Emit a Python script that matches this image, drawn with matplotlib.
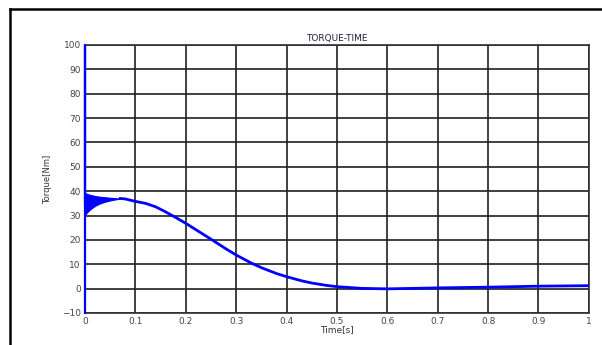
import numpy as np
import matplotlib
matplotlib.use('Agg')
from matplotlib import pyplot as plt
from matplotlib.lines import Line2D

plt.rcParams['font.family'] = ['DejaVu Sans']

# startup spike
t_spike = [0.0, 0.0, 0.0, 0.001]
q_spike = [-10, 100, 35, 34]

# decaying startup oscillation, upper / lower envelope
t_env = [0.001, 0.005, 0.01, 0.02, 0.03, 0.04, 0.05, 0.06, 0.07]
q_upper = [39.2, 38.8, 38.5, 38.0, 37.7, 37.5, 37.3, 37.1, 37.0]
q_lower = [30.5, 31.5, 32.5, 34.0, 35.0, 35.7, 36.2, 36.6, 37.0]

# main torque curve
t_main = [0.07, 0.08, 0.1, 0.12, 0.14, 0.16, 0.18, 0.2, 0.22, 0.25, 0.28, 0.3,
          0.33, 0.35, 0.38, 0.4, 0.43, 0.45, 0.48, 0.5, 0.55, 0.6, 0.65, 0.7,
          0.8, 0.9, 1.0]
q_main = [37.0, 36.8, 35.8, 35.0, 33.6, 31.5, 29.2, 26.8, 24.2, 20.3, 16.3, 13.8,
          10.5, 8.6, 6.2, 4.9, 3.2, 2.3, 1.3, 0.8, 0.1, -0.1, 0.1, 0.3,
          0.6, 1.0, 1.2]

xticks = np.arange(0, 1.01, 0.1)
xtick_labels = ['0', '0.1', '0.2', '0.3', '0.4', '0.5', '0.6', '0.7', '0.8', '0.9', '1']
yticks = np.arange(-10, 101, 10)

fig = plt.figure(figsize=(6.02, 3.45), dpi=100)
fig.patch.set_facecolor('white')
ax = fig.add_axes([0.1412, 0.0928, 0.837, 0.7768])

ax.plot(t_spike, q_spike, color='#0000ff', lw=1.6, zorder=5, clip_on=False)
ax.fill_between(t_env, q_lower, q_upper, color='#0000ff', lw=0.8, zorder=3)
ax.plot(t_main, q_main, color='#0000ff', lw=2.0, zorder=3)

ax.set_xlim(0, 1)
ax.set_ylim(-10, 100)
ax.set_xticks(xticks)
ax.set_xticklabels(xtick_labels)
ax.set_yticks(yticks)
ax.grid(True, color='#202020', lw=1.2, ls='-')
ax.set_axisbelow(True)
ax.tick_params(labelsize=6.5, colors='#444444', length=0, pad=3)
for sp in ax.spines.values():
    sp.set_color('#303030')
    sp.set_linewidth(1.2)

ax.set_title('TORQUE-TIME', fontsize=6.5, color='#202040', pad=3)
ax.set_xlabel('Time[s]', fontsize=6.5, color='#333333', labelpad=-1)
ax.set_ylabel('Torque[Nm]', fontsize=6, color='#333344', labelpad=7)

# outer frame
fig.add_artist(Line2D([10/602, 1.0], [1 - 9/345, 1 - 9/345], transform=fig.transFigure,
                      color='black', lw=1.8))
fig.add_artist(Line2D([10/602, 10/602], [0.0, 1 - 9/345], transform=fig.transFigure,
                      color='black', lw=1.8))

fig.savefig('out.png', dpi=100)
